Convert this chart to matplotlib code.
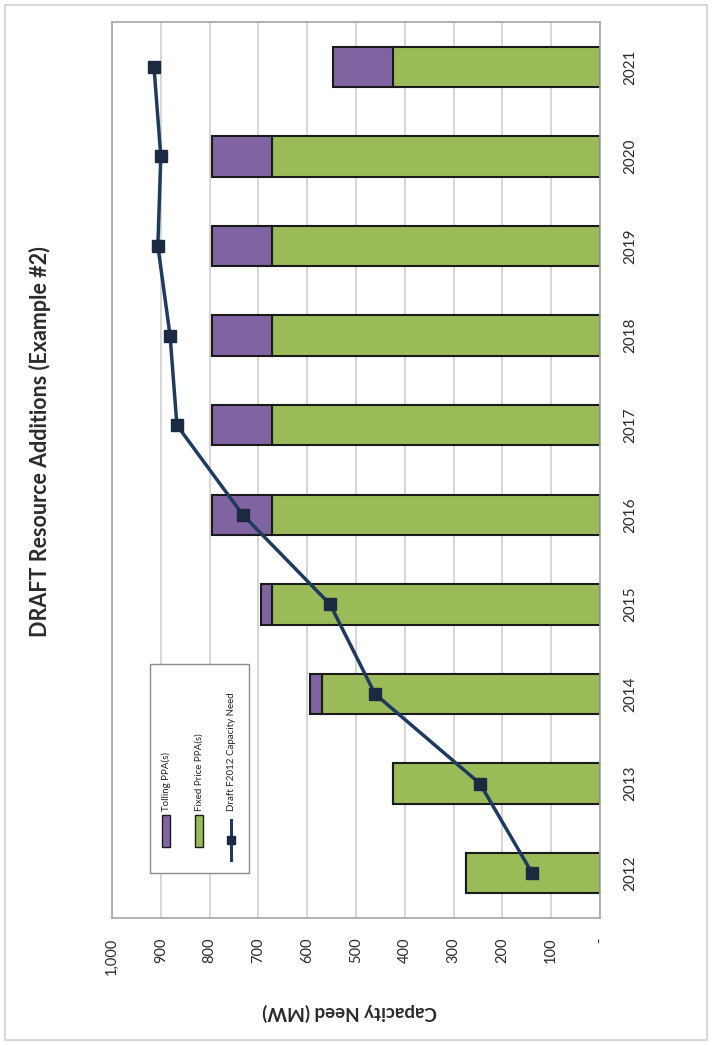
import matplotlib
matplotlib.use('Agg')
import matplotlib.pyplot as plt
from matplotlib.patches import Rectangle
from matplotlib.lines import Line2D
from matplotlib.ticker import FuncFormatter, MultipleLocator
import numpy as np

years = ['2012', '2013', '2014', '2015', '2016', '2017', '2018', '2019', '2020', '2021']
fixed_price = [275, 425, 570, 672, 672, 672, 672, 672, 672, 425]
tolling = [0, 0, 25, 22, 123, 123, 123, 123, 123, 122]
capacity_need = [139, 246, 461, 553, 732, 867, 881, 906, 900, 914]

green = '#9BBB59'
purple = '#8064A2'
navy = '#1F3A5F'

plt.rcParams['font.family'] = ['Lato', 'DejaVu Sans']

W, H = 712, 1045
fig = plt.figure(figsize=(W / 100, H / 100), dpi=100)

def fx(px):
    return px / W

def fy(py):
    return 1 - py / H

# chart is drawn turned a quarter turn: values run right-to-left, years bottom-to-top
ax = fig.add_axes([fx(112), fy(918), fx(600) - fx(112), fy(22) - fy(918)])
pos = np.arange(len(years))

ax.barh(pos, fixed_price, height=0.45, color=green, edgecolor='#1a1a1a', linewidth=1.5, zorder=2)
ax.barh(pos, tolling, left=fixed_price, height=0.45, color=purple, edgecolor='#1a1a1a', linewidth=1.5, zorder=2)
ax.plot(capacity_need, pos, color=navy, linewidth=2.5, marker='s', markersize=9,
        markerfacecolor='#1B2A41', markeredgecolor='#1B2A41', zorder=3)

ax.set_xlim(1000, 0)
ax.set_ylim(-0.5, len(years) - 0.5)
ax.xaxis.set_major_locator(MultipleLocator(100))
ax.xaxis.set_major_formatter(FuncFormatter(lambda v, p: '-' if v == 0 else f'{int(v):,}'))
ax.grid(axis='x', color='#cfcfcf', linewidth=1.2, zorder=0)
ax.set_axisbelow(True)
for s in ax.spines.values():
    s.set_color('#a6a6a6')
    s.set_linewidth(1.2)

ax.tick_params(axis='x', length=0, pad=14, labelsize=10.5, labelrotation=90, colors='#2b2b2b')
ax.yaxis.tick_right()
ax.set_yticks(pos)
ax.set_yticklabels(years)
ax.tick_params(axis='y', length=0, pad=17, labelsize=11, labelrotation=90, colors='#2b2b2b')
for t in ax.get_yticklabels():
    t.set_va('center')

fig.text(fx(40), fy(442), 'DRAFT Resource Additions (Example #2)', rotation=90,
         ha='center', va='center', fontsize=15.5, fontweight='bold', color='#2b2b2b')
fig.text(fx(350), fy(1012), 'Capacity Need (MW)', rotation=180,
         ha='center', va='center', fontsize=13.5, fontweight='bold', color='#2b2b2b')

# legend box, drawn by hand so its entries can be turned with the chart
fig.patches.append(Rectangle((fx(150), fy(873)), fx(249) - fx(150), fy(664) - fy(873),
                             transform=fig.transFigure, facecolor='white',
                             edgecolor='#8c8c8c', linewidth=1.0, zorder=5))
entries = [(166, purple, 'Tolling PPA(s)'), (199, green, 'Fixed Price PPA(s)')]
for cx, col, lab in entries:
    fig.patches.append(Rectangle((fx(cx - 4), fy(847)), fx(8), fy(815) - fy(847),
                                 transform=fig.transFigure, facecolor=col,
                                 edgecolor='#1a1a1a', linewidth=1.0, zorder=6))
    fig.text(fx(cx), fy(811), lab, rotation=90, ha='center', va='bottom',
             fontsize=7, color='#222222', zorder=6)
fig.lines.append(Line2D([fx(231), fx(231)], [fy(860), fy(820)], transform=fig.transFigure,
                        color=navy, linewidth=2.2, marker=None, zorder=6))
fig.lines.append(Line2D([fx(231)], [fy(840)], transform=fig.transFigure, color='#1B2A41',
                        marker='s', markersize=6, zorder=7))
fig.text(fx(231), fy(811), 'Draft F2012 Capacity Need', rotation=90, ha='center', va='bottom',
         fontsize=7, color='#222222', zorder=6)

# outer frame of the page
fig.patches.append(Rectangle((fx(5), fy(1040)), fx(702), fy(5) - fy(1040),
                             transform=fig.transFigure, fill=False,
                             edgecolor='#d0d0d0', linewidth=1.2))

fig.savefig('out.png', dpi=100)
